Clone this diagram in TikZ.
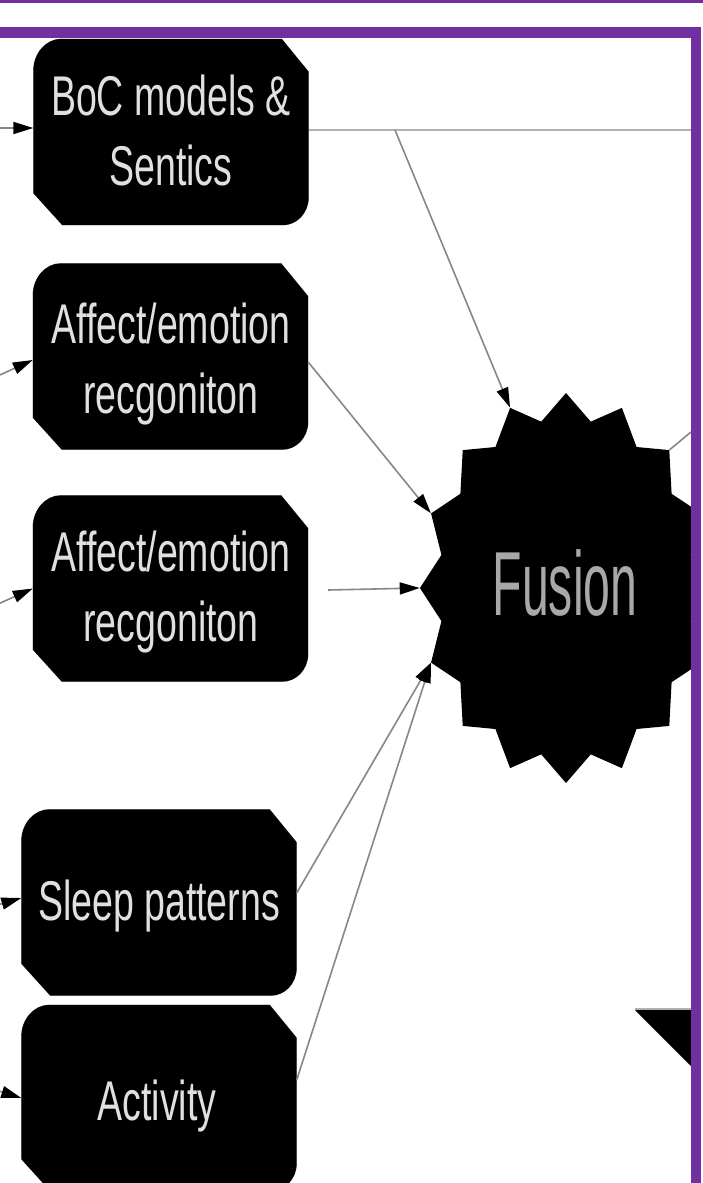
\documentclass[tikz,border=0pt]{standalone}
\usepackage{fontspec}
\usetikzlibrary{arrows.meta,shapes.geometric,calc}
\newfontfamily\sensorfont[FakeStretch=0.67]{Liberation Sans}
\newfontfamily\fusionfont[FakeStretch=0.53]{Liberation Sans}
\definecolor{framepurple}{RGB}{112,48,160}
\definecolor{labelgrey}{RGB}{224,224,224}
\definecolor{fusiongrey}{RGB}{168,168,168}
\definecolor{linkgrey}{RGB}{135,135,135}

% outline of a sensor box: rounded top-left / bottom-right, snipped top-right / bottom-left
\newcommand\sensorpath[1]{%
  ($(#1.north west)+(0,32)$) .. controls ($(#1.north west)+(0,14)$) and ($(#1.north west)+(13,0)$) .. ($(#1.north west)+(28,0)$)
  -- ($(#1.north east)+(-27,0)$) -- ($(#1.north east)+(0,33)$)
  -- ($(#1.south east)+(0,-28)$) .. controls ($(#1.south east)+(0,-12)$) and ($(#1.south east)+(-12,0)$) .. ($(#1.south east)+(-26,0)$)
  -- ($(#1.south west)+(29,0)$) -- ($(#1.south west)+(0,-32)$) -- cycle}

\begin{document}
\begin{tikzpicture}[x=1pt,y=-1pt,
  sensor/.style={rectangle, inner sep=0pt, minimum width=275pt, minimum height=186pt},
  sensorline/.style={anchor=base, inner sep=0pt, text=labelgrey,
    font=\sensorfont\fontsize{56}{70}\selectfont},
  fusionstar/.style={star, star points=16, star point ratio=1.15, minimum size=390pt,
    inner sep=0pt, fill=black, xscale=0.749, transform shape},
  fusionlabel/.style={anchor=base, inner sep=0pt, text=fusiongrey,
    font=\fusionfont\fontsize{91}{100}\selectfont},
  link/.style={draw=linkgrey, line width=1.6pt,
    -{Triangle[length=20pt,width=12pt,color=black]}},
  busline/.style={draw=gray!60, line width=2.5pt},
  frameband/.style={fill=framepurple}]

\useasboundingbox (0,0) rectangle (703,1183);
\fill[white] (0,0) rectangle (703,1183);

% sensor boxes (geometry only)
\node[sensor] (boc)   at (171,132)   {};
\node[sensor] (aff1)  at (170.5,356.5) {};
\node[sensor] (aff2)  at (170.5,588.5) {};
\node[sensor] (sleep) at (159,902.5) {};
\node[sensor] (act)   at (159,1098)  {};

\foreach \b in {boc,aff1,aff2,sleep,act}{
  \fill[gray!65, shift={(0,-3)}] \sensorpath{\b};
  \fill[gray!35, shift={(0,5)}] \sensorpath{\b};
  \fill[black] \sensorpath{\b};
}

% box labels
\node[sensorline] (boc-a)   at (171,115)  {BoC models \&};
\node[sensorline] (boc-b)   at (171,185)  {Sentics};
\node[sensorline] (aff1-a)  at (171,343)  {Affect/emotion};
\node[sensorline] (aff1-b)  at (171,413)  {recgoniton};
\node[sensorline] (aff2-a)  at (171,571)  {Affect/emotion};
\node[sensorline] (aff2-b)  at (171,641)  {recgoniton};
\node[sensorline] (sleep-a) at (159,920)  {Sleep patterns};
\node[sensorline] (act-a)   at (157,1120) {Activity};

% fusion star, cut by the frame
\begin{scope}
  \clip (0,0) rectangle (691,1183);
  \node[fusionstar] (fusion) at (566,588) {};
\end{scope}
\node[fusionlabel] (fusion-text) at (565,615) {Fusion};

% partial shape at the lower right
\fill[black] (635,1010) -- (691,1010) -- (691,1066) -- cycle;
\draw[gray!60, line width=2pt] (635,1009) -- (691,1009);

% incoming arrows from the left
\coordinate (boc-in)   at (-20,128);
\coordinate (aff1-in)  at (-20,384);
\coordinate (aff2-in)  at (-20,612);
\coordinate (sleep-in) at (-20,910);
\coordinate (act-in)   at (-20,1085);
\draw[link] (boc-in)   -- ([yshift=4pt]boc.west);
\draw[link] (aff1-in)  -- ([yshift=-3.5pt]aff1.west);
\draw[link] (aff2-in)  -- (aff2.west);
\draw[link] (sleep-in) -- ([yshift=4.5pt]sleep.west);
\draw[link] (act-in)   -- (act.west);

% links into the fusion star
\coordinate (boc-out)   at (691,130);
\coordinate (boc-split) at (395,130);
\coordinate (fusion-out) at (691,432);
\draw[busline] ([yshift=2pt]boc.east) -- (boc-out);
\draw[link] (boc-split) -- (fusion.outer point 2);
\draw[link] ([yshift=-5.5pt]aff1.east) -- (fusion.outer point 4);
\draw[link] ([xshift=20pt,yshift=-1.5pt]aff2.east) -- (fusion.outer point 5);
\draw[link] ([yshift=9.5pt]sleep.east) -- (fusion.outer point 6);
\draw[link] ([yshift=18pt]act.east) -- (fusion.outer point 6);
\draw[draw=linkgrey, line width=1.6pt] (fusion.outer point 15) -- (fusion-out);

% purple frame
\fill[frameband] (0,0) rectangle (703,2.5);
\fill[frameband] (-20,27) rectangle (701,38);
\fill[frameband] (691,27) rectangle (701,1200);
\end{tikzpicture}
\end{document}
